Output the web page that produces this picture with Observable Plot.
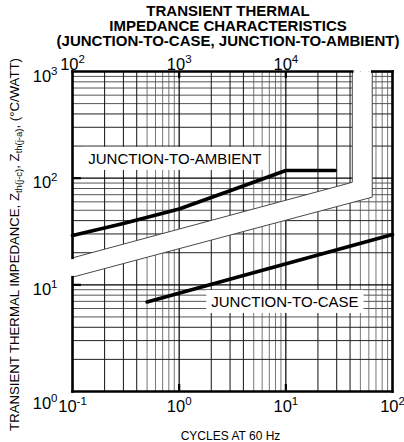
<!DOCTYPE html>
<html><head><meta charset="utf-8">
<script src="https://cdn.jsdelivr.net/npm/d3@7"></script>
<script src="https://cdn.jsdelivr.net/npm/@observablehq/plot@0.6"></script>
<style>
html,body{margin:0;padding:0;background:#fff;}
#chart{width:404px;height:442px;overflow:hidden;}
svg{font-family:"Liberation Sans",Arial,Helvetica,sans-serif;display:block;}
</style></head><body><div id="chart"></div>
<script>
// ---------- text ----------
const titleLines = ["TRANSIENT THERMAL", "IMPEDANCE CHARACTERISTICS", "(JUNCTION-TO-CASE, JUNCTION-TO-AMBIENT)"];
const xAxisTitle = "CYCLES AT 60 Hz";
const yTitleParts = [
  {t: "TRANSIENT THERMAL IMPEDANCE, Z", sub: false},
  {t: "th(j-c)", sub: true},
  {t: ", Z", sub: false},
  {t: "th(j-a)", sub: true},
  {t: ", (°C/WATT)", sub: false}
];

// ---------- ticks ----------
const xTickValues = [0.1, 1, 10, 100];
const xTickExponents = ["-1", "0", "1", "2"];
const topTickValues = [0.1, 1, 10];
const topTickExponents = ["2", "3", "4"];
const yTickValues = [1, 10, 100, 1000];
const yTickExponents = ["0", "1", "2", "3"];

// ---------- grid ----------
const xDecades = [0.1, 1, 10];
const yDecades = [1, 10, 100];
const darkMultipliers = [2, 3, 4];
const lightMultipliers = [5, 6, 7, 8, 9];
const majorX = [1, 10];
const majorY = [10, 100];

// ---------- curves ----------
const ambientCycles = [0.1, 0.3, 1, 3, 10, 29];
const ambientZ = [29.0, 37.6, 51.4, 76.2, 118, 118];
const caseCycles = [0.5, 100];
const caseZ = [6.9, 29.6];

// ---------- break band ----------
const breakUpperCycles = [0.1, 42];
const breakUpperZ = [17.9, 91.5];
const breakLowerCycles = [0.1, 64.6];
const breakLowerZ = [11.8, 66.4];
const domainX = [0.1, 100];
const domainY = [1, 1000];

// ---------- curve labels ----------
const labelTexts = ["JUNCTION-TO-AMBIENT", "JUNCTION-TO-CASE"];
const labelCycles = [0.91, 9.8];
const labelZ = [151, 6.88];

// ---------- build tables ----------
const pts = (xs, ys) => xs.map((x, i) => ({x, y: ys[i]}));
const ambient = pts(ambientCycles, ambientZ);
const junctionCase = pts(caseCycles, caseZ);
const gridDarkX = xDecades.flatMap(d => darkMultipliers.map(m => d * m));
const gridLightX = xDecades.flatMap(d => lightMultipliers.map(m => d * m));
const gridDarkY = yDecades.flatMap(d => darkMultipliers.map(m => d * m));
const gridLightY = yDecades.flatMap(d => lightMultipliers.map(m => d * m));

const bandPolygon = [
  {x: breakUpperCycles[0], y: breakUpperZ[0]},
  {x: breakUpperCycles[1], y: breakUpperZ[1]},
  {x: breakUpperCycles[1], y: domainY[1]},
  {x: breakLowerCycles[1], y: domainY[1]},
  {x: breakLowerCycles[1], y: breakLowerZ[1]},
  {x: breakLowerCycles[0], y: breakLowerZ[0]}
];
const thickBorder = [
  {s: "topL", x: domainX[0], y: domainY[1]}, {s: "topL", x: breakUpperCycles[1], y: domainY[1]},
  {s: "leftU", x: domainX[0], y: domainY[1]}, {s: "leftU", x: domainX[0], y: breakUpperZ[0]},
  {s: "leftL", x: domainX[0], y: breakLowerZ[0]}, {s: "leftL", x: domainX[0], y: domainY[0]},
  {s: "bottom", x: domainX[0], y: domainY[0]}, {s: "bottom", x: domainX[1], y: domainY[0]},
  {s: "right", x: domainX[1], y: domainY[0]}, {s: "right", x: domainX[1], y: domainY[1]},
  {s: "topR", x: breakLowerCycles[1], y: domainY[1]}, {s: "topR", x: domainX[1], y: domainY[1]}
];
const thinEdges = [
  {s: "up", x: breakUpperCycles[0], y: breakUpperZ[0]}, {s: "up", x: breakUpperCycles[1], y: breakUpperZ[1]},
  {s: "up", x: breakUpperCycles[1], y: domainY[1]},
  {s: "lo", x: breakLowerCycles[0], y: breakLowerZ[0]}, {s: "lo", x: breakLowerCycles[1], y: breakLowerZ[1]},
  {s: "lo", x: breakLowerCycles[1], y: domainY[1]}
];
const labels = labelTexts.map((t, i) => ({t, x: labelCycles[i], y: labelZ[i]}));
const expFmt = (vals, exps) => d => "10^" + exps[vals.indexOf(d)];
const yTitleText = yTitleParts.map(p => p.t).join("");

const font = "'Liberation Sans', Arial, Helvetica, sans-serif";
const tickFont = 16.5;

const svg = Plot.plot({
  width: 404, height: 442,
  marginTop: 71, marginBottom: 51, marginLeft: 72, marginRight: 12,
  x: {type: "log", domain: domainX},
  y: {type: "log", domain: domainY},
  style: {fontFamily: font, background: "white", color: "black"},
  marks: [
    Plot.ruleX(gridLightX, {stroke: "#777", strokeWidth: 1}),
    Plot.ruleY(gridLightY, {stroke: "#555", strokeWidth: 1}),
    Plot.ruleX(gridDarkX, {stroke: "#111", strokeWidth: 1}),
    Plot.ruleY(gridDarkY, {stroke: "#222", strokeWidth: 1}),
    Plot.ruleX(majorX, {stroke: "#000", strokeWidth: 1.2}),
    Plot.ruleY(majorY, {stroke: "#000", strokeWidth: 1.2}),
    // break band mask
    Plot.line(bandPolygon, {x: "x", y: "y", fill: "white", stroke: "none"}),
    Plot.line(thinEdges, {x: "x", y: "y", z: "s", stroke: "#333", strokeWidth: 0.9}),
    // decade ticks inside
    Plot.tickX(majorX, {x: d => d, stroke: "#000", strokeWidth: 2.2, insetTop: 313}),
    Plot.tickX(majorX, {x: d => d, stroke: "#000", strokeWidth: 2.2, insetBottom: 313}),
    Plot.tickY(majorY, {y: d => d, stroke: "#000", strokeWidth: 2.2, insetRight: 311}),
    // curves
    Plot.line(ambient, {x: "x", y: "y", stroke: "#000", strokeWidth: 3.6, strokeLinejoin: "miter"}),
    Plot.line(junctionCase, {x: "x", y: "y", stroke: "#000", strokeWidth: 3.6}),
    // frame
    Plot.line(thickBorder, {x: "x", y: "y", z: "s", stroke: "#000", strokeWidth: 2.6, strokeLinecap: "square"}),
    // curve labels
    Plot.text(labels, {x: "x", y: "y", text: "t", fontSize: 15, fill: "#000"}),
    // axes
    Plot.axisX(xTickValues, {anchor: "bottom", label: null, tickSize: 0, tickPadding: 9, fontSize: tickFont, tickFormat: expFmt(xTickValues, xTickExponents)}),
    Plot.axisX(topTickValues, {anchor: "top", label: null, tickSize: 0, tickPadding: 2, fontSize: tickFont, tickFormat: expFmt(topTickValues, topTickExponents)}),
    Plot.axisY(yTickValues.slice(1), {anchor: "left", label: null, tickSize: 0, tickPadding: 15, dy: 5, fontSize: tickFont, tickFormat: expFmt(yTickValues, yTickExponents)}),
    Plot.axisY(yTickValues.slice(0, 1), {anchor: "left", label: null, tickSize: 0, tickPadding: 15, dy: 12, fontSize: tickFont, tickFormat: expFmt(yTickValues, yTickExponents)}),
    // titles
    Plot.text([titleLines.join("\n")], {text: d => d, frameAnchor: "top", lineAnchor: "top", dy: -66, dx: -4.5, fontSize: 15, fontWeight: "bold", lineHeight: 1.0}),
    Plot.text([xAxisTitle], {text: d => d, frameAnchor: "bottom", lineAnchor: "middle", dy: 45, dx: -2, fontSize: 12}),
    Plot.text([yTitleText], {text: d => d, frameAnchor: "left", textAnchor: "middle", rotate: -90, lineAnchor: "middle", dx: -58, dy: 13, fontSize: 13.2})
  ]
});
document.getElementById("chart").appendChild(svg);

const NS = "http://www.w3.org/2000/svg";
// superscript tick labels
svg.querySelectorAll("text").forEach(t => {
  const m = /^10\^(-?\d+)$/.exec(t.textContent);
  if (!m) return;
  t.textContent = "";
  const base = document.createElementNS(NS, "tspan");
  base.textContent = "10";
  const sup = document.createElementNS(NS, "tspan");
  sup.textContent = m[1];
  sup.setAttribute("dy", "-7");
  sup.setAttribute("font-size", "11.5");
  t.appendChild(base); t.appendChild(sup);
});
// y title subscripts
svg.querySelectorAll("text").forEach(t => {
  if (t.textContent !== yTitleText) return;
  t.textContent = "";
  let shifted = false;
  yTitleParts.forEach(p => {
    const s = document.createElementNS(NS, "tspan");
    s.textContent = p.t;
    if (p.sub) { s.setAttribute("dy", "3"); s.setAttribute("font-size", "9.5"); shifted = true; }
    else if (shifted) { s.setAttribute("dy", "-3"); shifted = false; }
    t.appendChild(s);
  });
});
// white boxes behind curve labels
svg.querySelectorAll("text").forEach(t => {
  if (!labelTexts.includes(t.textContent)) return;
  const b = t.getBBox();
  const r = document.createElementNS(NS, "rect");
  r.setAttribute("x", b.x - 5); r.setAttribute("y", b.y - 3);
  r.setAttribute("width", b.width + 10); r.setAttribute("height", b.height + 6);
  r.setAttribute("fill", "white");
  const tr = t.getAttribute("transform");
  if (tr) r.setAttribute("transform", tr);
  t.parentNode.insertBefore(r, t);
});
</script></body></html>
